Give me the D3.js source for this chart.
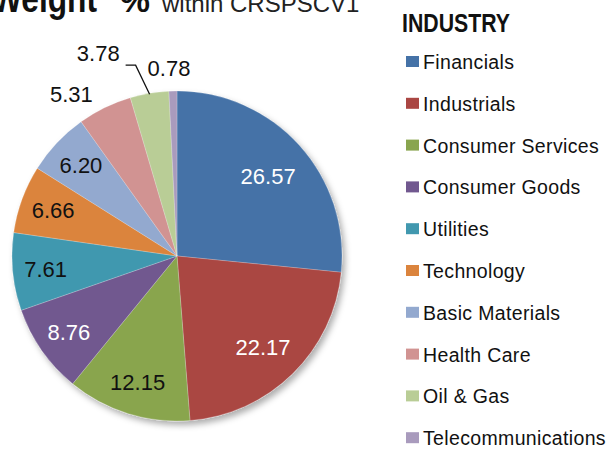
<!DOCTYPE html>
<html>
<head>
<meta charset="utf-8">
<script src="https://cdn.jsdelivr.net/npm/d3@7"></script>
<style>
  html, body { margin: 0; padding: 0; background: #fff; }
  svg { display: block; font-family: "Liberation Sans", Arial, sans-serif; }
</style>
</head>
<body>
<svg id="chart" width="614" height="449"></svg>
<script>
const categories = ["Financials", "Industrials", "Consumer Services", "Consumer Goods", "Utilities",
  "Technology", "Basic Materials", "Health Care", "Oil & Gas", "Telecommunications"];
const values = [26.57, 22.17, 12.15, 8.76, 7.61, 6.66, 6.20, 5.31, 3.78, 0.78];
const labels = ["26.57", "22.17", "12.15", "8.76", "7.61", "6.66", "6.20", "5.31", "3.78", "0.78"];
const colors = ["#4572A7", "#AA4643", "#89A54E", "#71588F", "#4198AF",
  "#DB843D", "#93A9CF", "#D19392", "#B9CD96", "#A99BBD"];
const labelColors = ["#fff", "#fff", "#111", "#fff", "#111", "#111", "#111", "#111", "#111", "#111"];
const legendTitle = "INDUSTRY";

const svg = d3.select("#chart");
const cx = 177, cy = 256, R = 165;

const defs = svg.append("defs");
const f = defs.append("filter").attr("id", "shadow").attr("x", "-20%").attr("y", "-20%").attr("width", "140%").attr("height", "140%");
f.append("feDropShadow").attr("dx", 3).attr("dy", 4).attr("stdDeviation", 3)
  .attr("flood-color", "#000").attr("flood-opacity", 0.32);

// Title (cut off at top)
svg.append("text").attr("x", -8).attr("y", 12)
  .attr("font-size", 38).attr("font-weight", "bold").attr("fill", "#111")
  .attr("textLength", 105).attr("lengthAdjust", "spacingAndGlyphs").text("Weight");
svg.append("text").attr("x", 120).attr("y", 12)
  .attr("font-size", 34).attr("font-weight", "bold").attr("fill", "#111")
  .attr("textLength", 30).attr("lengthAdjust", "spacingAndGlyphs").text("%");
svg.append("text").attr("x", 162).attr("y", 12)
  .attr("font-size", 24).attr("fill", "#222").text("within CRSPSCV1");

const pie = d3.pie().sort(null).value(d => d)(values);
const arc = d3.arc().innerRadius(0).outerRadius(R);

const g = svg.append("g").attr("transform", `translate(${cx},${cy})`);
const slices = g.append("g").attr("filter", "url(#shadow)");
slices.selectAll("path").data(pie).join("path")
  .attr("d", arc)
  .attr("fill", (d, i) => colors[i])
  .attr("stroke", "rgba(255,255,255,0.35)")
  .attr("stroke-width", 0.6);

// Labels
const lab = g.append("g").attr("font-size", 22).attr("text-anchor", "middle");
const total = d3.sum(values);
pie.forEach((d, i) => {
  const a = (d.startAngle + d.endAngle) / 2;
  const frac = values[i] / total;
  const ex = R * Math.sin(a), ey = -R * Math.cos(a);
  if (frac > 0.055) {
    const rr = frac > 0.2 ? R * 0.745 : R * 0.8;
    lab.append("text").attr("x", rr * Math.sin(a)).attr("y", -rr * Math.cos(a) + (frac > 0.2 ? 3 : 0))
      .attr("dy", "0.36em").attr("fill", labelColors[i]).text(labels[i]);
  } else if (frac > 0.05) {
    // outside, upper-left of the arc edge
    lab.append("text").attr("x", ex - 12).attr("y", ey - 6)
      .attr("text-anchor", "end").attr("fill", labelColors[i]).text(labels[i]);
  } else if (frac > 0.02) {
    // leader line label
    const px = (R - 1) * Math.sin(a), py = -(R - 1) * Math.cos(a);
    const ly = -R * 1.157;
    const lx2 = px - 14, lx1 = lx2 - 10;
    g.append("path")
      .attr("d", `M${px},${py}L${lx2},${ly}L${lx1},${ly}`)
      .attr("fill", "none").attr("stroke", "#111").attr("stroke-width", 1.3);
    lab.append("text").attr("x", lx1 - 6).attr("y", ly - 4)
      .attr("text-anchor", "end").attr("fill", labelColors[i]).text(labels[i]);
  } else {
    lab.append("text").attr("x", ex - 4).attr("y", -R * 1.09)
      .attr("text-anchor", "middle").attr("fill", labelColors[i]).text(labels[i]);
  }
});

// Legend
const lg = svg.append("g");
lg.append("text").attr("x", 402).attr("y", 32).attr("font-size", 26).attr("font-weight", "bold")
  .attr("fill", "#111").attr("textLength", 108).attr("lengthAdjust", "spacingAndGlyphs").text(legendTitle);
const step = 41.8, y0 = 69;
const items = lg.selectAll("g.item").data(categories).join("g").attr("class", "item")
  .attr("transform", (d, i) => `translate(406,${y0 + i * step})`);
items.append("rect").attr("x", 0).attr("y", -13).attr("width", 13).attr("height", 11)
  .attr("fill", (d, i) => colors[i]);
items.append("text").attr("x", 17).attr("y", 0).attr("font-size", 19.5)
  .attr("letter-spacing", 0.35).attr("fill", "#111").text(d => d);
</script>
</body>
</html>
